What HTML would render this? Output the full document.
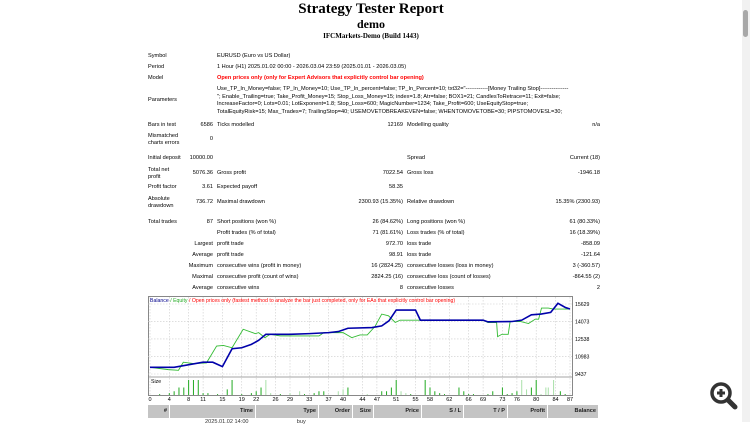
<!DOCTYPE html>
<html><head><meta charset="utf-8">
<style>
body{margin:0;width:750px;height:422px;overflow:hidden;background:#fff;font-family:"Liberation Sans",sans-serif;position:relative}
.t{position:absolute;font-size:5.6px;color:#000;white-space:nowrap;line-height:7px}
.r{text-align:right}
.hd{position:absolute;top:405px;height:13px;background:#c4c4c4;font-size:5.6px;font-weight:bold;line-height:13px;text-align:right;box-sizing:border-box;padding-right:2px;color:#222}
</style></head><body>
<div style="position:absolute;top:1px;left:0;width:742px;text-align:center;font:bold 15px 'Liberation Serif',serif">Strategy Tester Report</div>
<div style="position:absolute;top:17px;left:0;width:742px;text-align:center;font:bold 12px 'Liberation Serif',serif">demo</div>
<div style="position:absolute;top:32px;left:0;width:742px;text-align:center;font:bold 7px 'Liberation Serif',serif">IFCMarkets-Demo (Build 1443)</div>

<div>
<div class="t" style="left:148px;top:53px">Symbol</div><div class="t" style="left:217px;top:53px">EURUSD (Euro vs US Dollar)</div>
<div class="t" style="left:148px;top:64px">Period</div><div class="t" style="left:217px;top:64px">1 Hour (H1) 2025.01.02 00:00 - 2026.03.04 23:59 (2025.01.01 - 2026.03.05)</div>
<div class="t" style="left:148px;top:75px">Model</div><div class="t" style="left:217px;top:75px;color:#f00;font-weight:bold">Open prices only (only for Expert Advisors that explicitly control bar opening)</div>
<div class="t" style="left:148px;top:97px">Parameters</div>
<div class="t" style="left:217px;top:86px">Use_TP_In_Money=false; TP_In_Money=10; Use_TP_In_percent=false; TP_In_Percent=10; txt32="------------[Money Trailing Stop]---------------</div>
<div class="t" style="left:217px;top:93.5px">"; Enable_Trailing=true; Take_Profit_Money=15; Stop_Loss_Money=15; index=1.8; Atr=false; BOX1=21; CandlesToRetrace=11; Exit=false;</div>
<div class="t" style="left:217px;top:101px">IncreaseFactor=0; Lots=0.01; LotExponent=1.8; Stop_Loss=600; MagicNumber=1234; Take_Profit=600; UseEquityStop=true;</div>
<div class="t" style="left:217px;top:108.5px">TotalEquityRisk=15; Max_Trades=7; TrailingStop=40; USEMOVETOBREAKEVEN=false; WHENTOMOVETOBE=30; PIPSTOMOVESL=30;</div>
<div class="t" style="left:148px;top:122px">Bars in test</div><div class="t r" style="right:537px;top:122px">6586</div><div class="t" style="left:217px;top:122px">Ticks modelled</div><div class="t r" style="right:347px;top:122px">12169</div><div class="t" style="left:407px;top:122px">Modelling quality</div><div class="t r" style="right:150px;top:122px">n/a</div>
<div class="t" style="left:148px;top:133px">Mismatched<br>charts errors</div><div class="t r" style="right:537px;top:136px">0</div>
<div class="t" style="left:148px;top:155px">Initial deposit</div><div class="t r" style="right:537px;top:155px">10000.00</div><div class="t" style="left:407px;top:155px">Spread</div><div class="t r" style="right:150px;top:155px">Current (18)</div>
<div class="t" style="left:148px;top:167px">Total net<br>profit</div><div class="t r" style="right:537px;top:170px">5076.36</div><div class="t" style="left:217px;top:170px">Gross profit</div><div class="t r" style="right:347px;top:170px">7022.54</div><div class="t" style="left:407px;top:170px">Gross loss</div><div class="t r" style="right:150px;top:170px">-1946.18</div>
<div class="t" style="left:148px;top:184px">Profit factor</div><div class="t r" style="right:537px;top:184px">3.61</div><div class="t" style="left:217px;top:184px">Expected payoff</div><div class="t r" style="right:347px;top:184px">58.35</div>
<div class="t" style="left:148px;top:196px">Absolute<br>drawdown</div><div class="t r" style="right:537px;top:199px">736.72</div><div class="t" style="left:217px;top:199px">Maximal drawdown</div><div class="t r" style="right:347px;top:199px">2300.93 (15.35%)</div><div class="t" style="left:407px;top:199px">Relative drawdown</div><div class="t r" style="right:150px;top:199px">15.35% (2300.93)</div>
<div class="t" style="left:148px;top:219px">Total trades</div><div class="t r" style="right:537px;top:219px">87</div><div class="t" style="left:217px;top:219px">Short positions (won %)</div><div class="t r" style="right:347px;top:219px">26 (84.62%)</div><div class="t" style="left:407px;top:219px">Long positions (won %)</div><div class="t r" style="right:150px;top:219px">61 (80.33%)</div>
<div class="t" style="left:217px;top:230px">Profit trades (% of total)</div><div class="t r" style="right:347px;top:230px">71 (81.61%)</div><div class="t" style="left:407px;top:230px">Loss trades (% of total)</div><div class="t r" style="right:150px;top:230px">16 (18.39%)</div>
<div class="t r" style="right:537px;top:241px">Largest</div><div class="t" style="left:217px;top:241px">profit trade</div><div class="t r" style="right:347px;top:241px">972.70</div><div class="t" style="left:407px;top:241px">loss trade</div><div class="t r" style="right:150px;top:241px">-858.09</div>
<div class="t r" style="right:537px;top:252px">Average</div><div class="t" style="left:217px;top:252px">profit trade</div><div class="t r" style="right:347px;top:252px">98.91</div><div class="t" style="left:407px;top:252px">loss trade</div><div class="t r" style="right:150px;top:252px">-121.64</div>
<div class="t r" style="right:537px;top:263px">Maximum</div><div class="t" style="left:217px;top:263px">consecutive wins (profit in money)</div><div class="t r" style="right:347px;top:263px">16 (2824.25)</div><div class="t" style="left:407px;top:263px">consecutive losses (loss in money)</div><div class="t r" style="right:150px;top:263px">3 (-360.57)</div>
<div class="t r" style="right:537px;top:274px">Maximal</div><div class="t" style="left:217px;top:274px">consecutive profit (count of wins)</div><div class="t r" style="right:347px;top:274px">2824.25 (16)</div><div class="t" style="left:407px;top:274px">consecutive loss (count of losses)</div><div class="t r" style="right:150px;top:274px">-864.55 (2)</div>
<div class="t r" style="right:537px;top:285px">Average</div><div class="t" style="left:217px;top:285px">consecutive wins</div><div class="t r" style="right:347px;top:285px">8</div><div class="t" style="left:407px;top:285px">consecutive losses</div><div class="t r" style="right:150px;top:285px">2</div>
</div>

<svg id="chart" style="position:absolute;left:0;top:0" width="750" height="422"></svg>

<div>
<div class="hd" style="left:148px;width:21px">#</div>
<div class="hd" style="left:170px;width:85px">Time</div>
<div class="hd" style="left:256px;width:62px">Type</div>
<div class="hd" style="left:319px;width:33px">Order</div>
<div class="hd" style="left:353px;width:20px">Size</div>
<div class="hd" style="left:374px;width:47px">Price</div>
<div class="hd" style="left:422px;width:41px">S / L</div>
<div class="hd" style="left:464px;width:43px">T / P</div>
<div class="hd" style="left:508px;width:39px">Profit</div>
<div class="hd" style="left:548px;width:50px">Balance</div>
</div>
<div class="t" style="left:205px;top:419px;color:#333">2025.01.02 14:00&nbsp;&nbsp;&nbsp;&nbsp;&nbsp;&nbsp;&nbsp;&nbsp;&nbsp;&nbsp;&nbsp;&nbsp;&nbsp;&nbsp;&nbsp;&nbsp;&nbsp;&nbsp;&nbsp;&nbsp;&nbsp;&nbsp;&nbsp;&nbsp;&nbsp;&nbsp;&nbsp;&nbsp;&nbsp;&nbsp;&nbsp;buy</div>

<div style="position:absolute;left:742px;top:0;width:8px;height:422px;background:#f1f1f1"></div>
<div style="position:absolute;left:743px;top:10px;width:5px;height:27px;background:#a8a8a8;border-radius:3px"></div>
<svg style="position:absolute;left:708px;top:380px" width="32" height="32"><circle cx="13" cy="13" r="9" fill="none" stroke="#333" stroke-width="3.5"/><line x1="20" y1="20" x2="27" y2="27" stroke="#333" stroke-width="5" stroke-linecap="round"/><line x1="9" y1="13" x2="17" y2="13" stroke="#333" stroke-width="3"/><line x1="13" y1="9" x2="13" y2="17" stroke="#333" stroke-width="3"/></svg>

<script>
const balIdx=[0,5,11,13,15,17,19,21,22.5,24,29,33,37,39,41,46,48,49.5,51,55,56,68,69,70,75,77,79,81,83,84.5,86,87];
const balVal=[10032,10032,10479,10479,10092,11670,11759,12057,12414,12950,12950,13009,13098,13188,13485,13545,13694,14140,15093,15093,14200,14200,14200,14051,14081,14200,14676,14736,14885,15689,15331,15182];
const eqIdx=[0,3.8,5.9,6.9,9,11.7,13.8,15.2,17,19.3,21.8,22.5,23.8,24.9,27,35,36,40,41.8,43.5,45,46.6,48,49.4,50.8,51.8,69,70,71.8,72,72.9,74.2,74.6,76.7,78.4,79.8,80.5,81.1,82.5,83.6,87];
const eqVal=[10032,9824,9765,10479,10360,10419,11908,11967,11759,13396,13009,13098,12652,12950,12801,12801,13098,13098,12652,12890,12890,13635,14736,14587,13992,14200,14200,13992,13992,12741,12950,12950,14081,14081,13902,14289,14289,15272,15272,15182,15182];
const sizeIdx=[2,4,5,6,7,8,9,10,11,12,14,16,17,19,21,22,23,24,25,27,29,31,32,34,35,36,39,40,41,45,48,49,50,51,52,53,54,57,58,59,60,61,64,65,66,67,70,71,73,74,75,76,77,78,79,80,81,82,82.5,83.6,85,86];
const sizeLots=[0.005,0.01,0.02,0.04,0.04,0.08,0.08,0.08,0.01,0.01,0.005,0.03,0.08,0.005,0.01,0.02,0.04,0.08,0.01,0.005,0.01,0.02,0.005,0.01,0.02,0.02,0.02,0.03,0.04,0.005,0.02,0.02,0.04,0.08,0.02,0.01,0.005,0.08,0.04,0.02,0.01,0.005,0.04,0.02,0.005,0.005,0.005,0.02,0.04,0.005,0.01,0.02,0.08,0.03,0.04,0.08,0.005,0.04,0.04,0.08,0.02,0.005];
const sizeLight=[0,0,0,0,0,0,0,0,0,0,0,0,0,0,0,0,0,1,1,0,1,1,0,0,0,0,1,1,0,1,0,0,0,0,1,1,0,0,0,0,0,0,0,0,0,0,0,0,0,0,0,0,1,1,0,0,1,1,1,1,0,0];
const xTicks=[0,4,8,11,15,19,22,26,29,33,37,40,44,47,51,55,58,62,66,69,73,76,80,84,87];
const yTicks=[9437,10983,12538,14073,15629];

const NS='http://www.w3.org/2000/svg';
const svg=document.getElementById('chart');
function mk(t,a,p){const e=document.createElementNS(NS,t);for(const k in a)e.setAttribute(k,a[k]);(p||svg).appendChild(e);return e;}
const X0=150,X1=570,Y0=304,Y1=374,SB=395,ST=377;
const x=i=>X0+i*(X1-X0)/87;
const y=v=>Y1-(v-9437)*(Y1-Y0)/(15629-9437);
const ys=l=>SB-l/0.08*(SB-ST-3);
let f=mk('rect',{x:148.5,y:296.5,width:424,height:99,fill:'#fff',stroke:'#888','stroke-width':1});

let sep=mk('line',{x1:148,x2:572,y1:ST,y2:ST,stroke:'#888','stroke-width':0.8});

xTicks.forEach(t=>{
 const g=mk('line',{x1:x(t),x2:x(t),y1:297,y2:395,stroke:'#ccc','stroke-width':0.6,'stroke-dasharray':'1.5,1.5'});
 
 const l=mk('text',{x:x(t),y:401,'font-size':5.5,'text-anchor':'middle','font-family':'Liberation Sans, sans-serif',fill:'#000'});l.textContent=t;
 
});
yTicks.forEach(t=>{
 const g=mk('line',{x1:148,x2:572,y1:y(t),y2:y(t),stroke:'#ccc','stroke-width':0.6,'stroke-dasharray':'1.5,1.5'});
 
 const l=mk('text',{x:575,y:y(t)+2,'font-size':5.2,'font-family':'Liberation Sans, sans-serif',fill:'#000'});l.textContent=t;
 
});
let eq=mk('polyline',{points:eqIdx.map((i,k)=>x(i)+','+y(eqVal[k])).join(' '),fill:'none',stroke:'#33bb33','stroke-width':0.9});

let bl=mk('polyline',{points:balIdx.map((i,k)=>x(i)+','+y(balVal[k])).join(' '),fill:'none',stroke:'#0000aa','stroke-width':1.6});

sizeIdx.forEach((i,k)=>{
 const b=mk('rect',{x:x(i)-0.5,y:ys(sizeLots[k]),width:1,height:SB-ys(sizeLots[k]),fill:sizeLight[k]?'#a8e0a8':'#22aa22'});
 
});
let lg=mk('text',{x:150,y:302,'font-size':5.2,'font-family':'Liberation Sans, sans-serif'});

[['Balance','#00008b'],[' / Equity','#22aa22'],[' / Open prices only (fastest method to analyze the bar just completed, only for EAs that explicitly control bar opening)','#ff0000']].forEach(p=>{const s=mk('tspan',{fill:p[1]},lg);s.textContent=p[0];});
let sl=mk('text',{x:151,y:383,'font-size':5.2,'font-family':'Liberation Sans, sans-serif',fill:'#000'});sl.textContent='Size';

</script>
</body></html>
